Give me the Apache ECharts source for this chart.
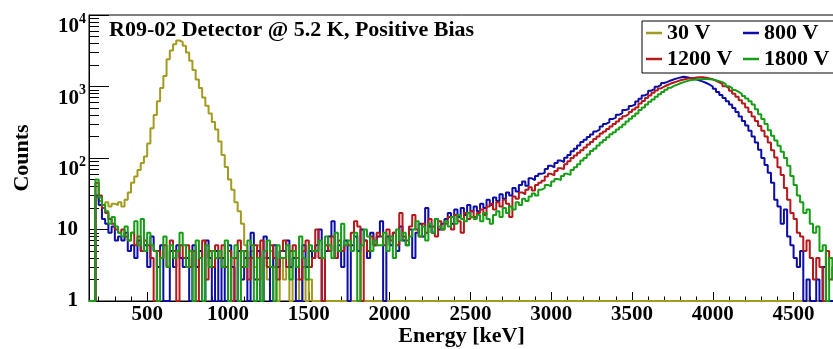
<!DOCTYPE html>
<html><head><meta charset="utf-8">
<script src="https://cdn.jsdelivr.net/npm/echarts@6/dist/echarts.min.js"></script>
<style>html,body{margin:0;padding:0;background:#fff}#c{width:833px;height:349px}</style>
</head><body><div id="c"></div>
<script>
// Histogram binning (keV): low edge of the first bin and bin width
const BIN_LOW = 140, BIN_WIDTH = 20;
const seriesNames = ['30 V', '800 V', '1200 V', '1800 V'];
const seriesColors = ['#a39b1f', '#0c0ca6', '#b5181b', '#169e16'];

const counts30V = [
  0,0,28,25,22,24,21,23,22,24,
  21,26,33,45,55,68,85,105,160,260,
  400,620,950,1400,2400,3200,3900,4400,4200,3700,
  3000,2300,1700,1250,950,700,540,420,320,250,
  170,110,75,50,36,24,18,12,6,4,
  5,3,6,0,4,2,5,3,1,4,
  2,3,0,5,2,1,3,0,2,0,
  0,0,0,0,0,0,0,0,0,0, 0,0,0,0,0,0,0,0,0,0,
  0,0,0,0,0,0,0,0,0,0, 0,0,0,0,0,0,0,0,0,0,
  0,0,0,0,0,0,0,0,0,0, 0,0,0,0,0,0,0,0,0,0,
  0,0,0,0,0,0,0,0,0,0, 0,0,0,0,0,0,0,0,0,0,
  0,0,0,0,0,0,0,0,0,0, 0,0,0,0,0,0,0,0,0,0,
  0,0,0,0,0,0,0,0,0,0, 0,0,0,0,0,0,0,0,0,0,
  0,0,0,0,0,0,0,0,0,0, 0,0,0,0,0,0,0,0,0,0,
  0,0,0,0,0,0,0,0,0,0, 0,0,0,0,0,0,0,0,0,0,
  0
];
const counts800V = [
  0,0,30,22,14,12,9,11,7,8,
  7,9,5,6,4,7,5,6,3,8,
  5,3,6,1,0,5,3,6,4,3,
  4,0,6,3,5,1,7,4,0,5,
  0,4,1,6,3,0,5,2,4,1,
  9,2,5,0,8,4,1,6,3,5,
  5,7,3,4,0,1,6,3,5,4,
  6,10,1,5,8,13,4,6,3,7,
  1,6,8,5,10,7,4,9,6,8,
  13,0,8,6,9,5,11,7,6,10,
  4,9,12,8,20,11,9,14,10,12,
  14,17,12,19,15,20,16,22,18,21,
  18,23,20,26,22,28,25,31,27,33,
  30,38,34,42,47,41,52,49,56,60,
  62,70,78,74,85,92,88,101,110,124,
  135,150,168,180,196,214,235,250,275,300,
  318,350,368,402,425,468,485,535,560,615,
  675,750,795,875,925,995,1050,1120,1160,1215,
  1260,1300,1340,1370,1350,1320,1280,1250,1210,1170,
  1120,1060,1000,930,840,760,690,620,560,500,
  440,380,330,285,240,200,165,130,100,80,
  62,45,26,21,12,19,8,6,4,3,
  5,1,2,0,1,2,1,3,1,0,
  1
];
const counts1200V = [
  0,0,45,30,20,17,14,12,10,9,
  10,8,7,9,6,8,5,7,6,4,
  0,5,4,6,3,7,5,0,6,4,
  6,3,5,0,4,7,2,5,3,6,
  4,6,3,5,0,4,7,3,5,2,
  4,6,2,7,5,3,6,4,2,5,
  7,3,5,6,4,2,5,7,3,4,
  10,4,1,6,5,8,4,7,5,6,
  6,9,13,11,0,7,5,8,6,9,
  8,6,10,7,9,6,17,8,7,11,
  16,10,8,12,9,14,11,8,13,10,
  12,15,10,16,13,9,17,14,18,15,
  17,19,16,21,23,19,24,21,26,23,
  15,29,27,33,31,36,39,35,42,45,
  48,55,60,57,66,72,70,82,90,100,
  108,118,128,140,155,168,185,200,220,235,
  255,275,300,325,355,385,410,440,475,510,
  580,625,690,750,820,880,940,1000,1050,1100,
  1140,1180,1220,1250,1280,1300,1320,1335,1345,1350,
  1330,1300,1260,1200,1140,1080,1010,950,870,790,
  720,640,580,510,440,380,330,280,240,200,
  165,128,102,74,58,38,26,17,14,9,
  8,5,7,4,2,4,3,1,5,2,
  3
];
const counts1800V = [
  0,0,50,28,22,18,12,15,11,9,
  8,11,7,9,13,6,14,5,9,6,
  5,1,4,8,3,6,4,5,9,6,
  3,5,0,7,4,1,6,3,5,4,
  5,3,7,1,4,6,0,5,3,7,
  6,0,4,1,5,7,3,0,6,4,
  4,6,2,5,3,8,4,2,6,5,
  5,7,4,8,6,4,9,5,12,6,
  7,5,9,0,6,10,8,5,7,6,
  6,9,5,8,4,10,7,9,6,8,
  10,13,8,11,7,12,9,14,11,10,
  13,11,15,12,16,14,13,17,15,14,
  16,13,17,14,12,16,18,15,20,17,
  21,19,24,22,27,25,29,32,30,36,
  38,42,40,47,51,49,56,60,58,68,
  74,82,92,100,112,125,135,150,165,178,
  195,215,230,250,270,295,325,355,385,420,
  470,510,560,610,660,720,780,840,900,960,
  1020,1060,1110,1150,1190,1220,1240,1255,1265,1270,
  1270,1265,1250,1225,1190,1150,1080,1010,950,890,
  840,790,735,680,620,560,480,410,350,300,
  245,205,175,148,122,100,78,56,42,30,
  24,17,19,12,9,11,5,6,1,4,
  2
];

const xTickLabels = [500, 1000, 1500, 2000, 2500, 3000, 3500, 4000, 4500];
const xMinorTicks = [200,300,400, 600,700,800,900, 1100,1200,1300,1400, 1600,1700,1800,1900,
  2100,2200,2300,2400, 2600,2700,2800,2900, 3100,3200,3300,3400, 3600,3700,3800,3900,
  4100,4200,4300,4400, 4600,4700];
const yTickLabels = [1, 10, 100, 1000, 10000];
const yMinorTicks = [2,3,4,5,6,7,8,9, 20,30,40,50,60,70,80,90, 200,300,400,500,600,700,800,900,
  2000,3000,4000,5000,6000,7000,8000,9000];

const allCounts = [counts30V, counts800V, counts1200V, counts1800V];
const n = counts30V.length;
allCounts.forEach((a, i) => { if (a.length !== n) throw new Error('length mismatch ' + i + ': ' + a.length + ' vs ' + n); });

const Y_MIN = 1, Y_MAX = 10000, X_MIN = 140, X_MAX = 4750;
function toSteps(counts) {
  const pts = counts.map((c, i) => [BIN_LOW + i * BIN_WIDTH, Math.max(c, Y_MIN)]);
  pts.push([BIN_LOW + counts.length * BIN_WIDTH, Math.max(counts[counts.length - 1], Y_MIN)]);
  return pts;
}

const FONT = 'Liberation Serif';
const chart = echarts.init(document.getElementById('c'), null, { renderer: 'canvas' });
chart.setOption({
  animation: false,
  backgroundColor: '#fff',
  title: {
    text: 'R09-02 Detector @ 5.2 K, Positive Bias',
    left: 109, top: 19, padding: 0,
    textStyle: { fontFamily: FONT, fontWeight: 'bold', fontSize: 22, color: '#000' }
  },
  legend: {
    data: seriesNames,
    left: 642, top: 21, width: 190,
    padding: [1, 0, 3, 4],
    borderColor: '#000', borderWidth: 1, borderRadius: 0,
    icon: 'rect', itemWidth: 16, itemHeight: 2.5, itemGap: 4,
    textStyle: { fontFamily: FONT, fontWeight: 'bold', fontSize: 22, color: '#000', width: 72, lineHeight: 19 }
  },
  grid: { left: 89, top: 15, right: -1, bottom: 48, show: true, borderColor: '#000', borderWidth: 1,
          containLabel: false, outerBoundsMode: 'none' },
  xAxis: [{
    type: 'value', min: X_MIN, max: X_MAX,
    name: 'Energy [keV]', nameLocation: 'middle', nameGap: 24, nameMoveOverlap: false,
    nameTextStyle: { fontFamily: FONT, fontWeight: 'bold', fontSize: 22, color: '#000' },
    axisLine: { show: true, lineStyle: { color: '#000', width: 1 } },
    axisTick: { show: true, inside: true, length: 9, customValues: xTickLabels, lineStyle: { color: '#000' } },
    axisLabel: { customValues: xTickLabels, margin: 3, formatter: v => String(v), fontFamily: FONT, fontWeight: 'bold', fontSize: 21, color: '#000' },
    splitLine: { show: false }
  }, {
    type: 'value', min: X_MIN, max: X_MAX, position: 'bottom',
    axisLine: { show: false },
    axisTick: { show: true, inside: true, length: 4.5, customValues: xMinorTicks, lineStyle: { color: '#000' } },
    axisLabel: { show: false }, splitLine: { show: false }
  }],
  yAxis: [{
    type: 'log', logBase: 10, min: Y_MIN, max: Y_MAX,
    name: 'Counts', nameLocation: 'middle', nameGap: 56,
    nameTextStyle: { fontFamily: FONT, fontWeight: 'bold', fontSize: 22, color: '#000' },
    axisLine: { show: true, lineStyle: { color: '#000', width: 1 } },
    axisTick: { show: true, inside: true, length: 20, customValues: yTickLabels, lineStyle: { color: '#000' } },
    axisLabel: {
      customValues: yTickLabels, margin: 3, color: '#000',
      formatter: function (v) {
        const e = Math.round(Math.log10(v));
        if (e === 0) return '{p|1}';
        if (e === 1) return '{p|10}';
        return '{b|10}{s|' + e + '}';
      },
      rich: {
        p: { fontFamily: FONT, fontWeight: 'bold', fontSize: 21, color: '#000', padding: [0, 8, 0, 0] },
        b: { fontFamily: FONT, fontWeight: 'bold', fontSize: 21, lineHeight: 21, color: '#000', padding: [12, 0, 0, 0], verticalAlign: 'top' },
        s: { fontFamily: FONT, fontWeight: 'bold', fontSize: 14, lineHeight: 14, color: '#000', padding: [7.5, 0, 0, 0], verticalAlign: 'top' }
      }
    },
    splitLine: { show: false }
  }, {
    type: 'log', logBase: 10, min: Y_MIN, max: Y_MAX, position: 'left',
    axisLine: { show: false },
    axisTick: { show: true, inside: true, length: 10, customValues: yMinorTicks, lineStyle: { color: '#000' } },
    axisLabel: { show: false }, splitLine: { show: false }
  }],
  series: allCounts.map((c, i) => ({
    name: seriesNames[i], type: 'line', step: 'end',
    xAxisIndex: 0, yAxisIndex: 0,
    data: toSteps(c), showSymbol: false, symbol: 'none', clip: false,
    color: seriesColors[i],
    lineStyle: { color: seriesColors[i], width: 2 },
    emphasis: { disabled: true }
  }))
});
</script></body></html>
